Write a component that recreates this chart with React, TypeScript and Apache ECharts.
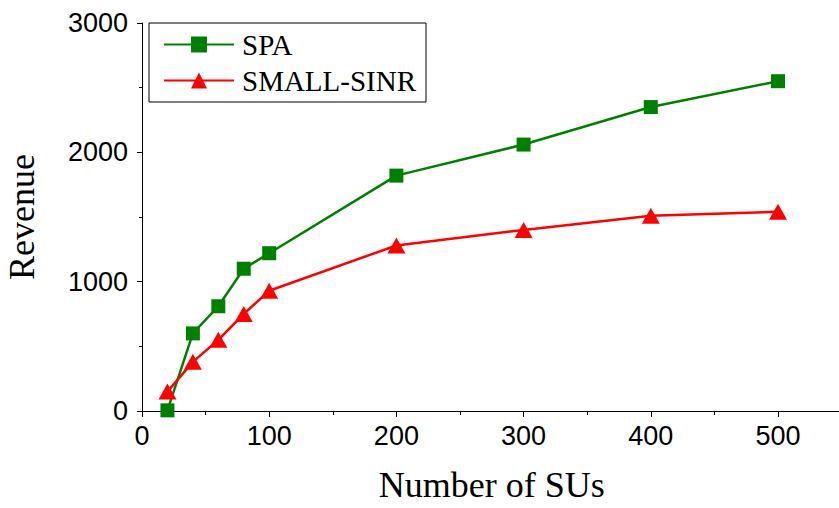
import React, { useEffect, useRef } from "react";
import * as echarts from "echarts";

const xValues = [20, 40, 60, 80, 100, 200, 300, 400, 500];
const spaValues = [5, 600, 810, 1100, 1220, 1820, 2060, 2350, 2550];
const sinrValues = [150, 380, 550, 750, 930, 1280, 1400, 1510, 1540];
const seriesNames = ["SPA", "SMALL-SINR"];
const xTitle = "Number of SUs";
const yTitle = "Revenue";

export default function App() {
  const ref = useRef<HTMLDivElement>(null);
  useEffect(() => {
    if (!ref.current) return;
    const chart = echarts.init(ref.current, null, { renderer: "svg" });
    const serif = "'Liberation Serif', 'Times New Roman', serif";
    const sans = "'Liberation Sans', Arial, sans-serif";
    chart.setOption({
      animation: false,
      backgroundColor: "#ffffff",
      grid: { left: 142, top: 23, width: 699.6, height: 388, outerBoundsMode: "none", containLabel: false },
      legend: {
        left: 149,
        top: 23,
        orient: "vertical",
        data: seriesNames,
        itemWidth: 70,
        itemHeight: 20,
        itemGap: 7,
        padding: [7, 10, 7, 14],
        borderColor: "#000",
        borderWidth: 1,
        borderRadius: 0,
        textStyle: { fontFamily: serif, fontSize: 29, color: "#000", padding: [0, 0, 0, 3] },
      },
      xAxis: {
        type: "value",
        min: 0,
        max: 550,
        interval: 100,
        name: xTitle,
        nameLocation: "middle",
        nameGap: 56,
        nameTextStyle: { fontFamily: serif, fontSize: 36, color: "#000" },
        axisLine: { show: true, lineStyle: { color: "#000", width: 1 } },
        axisTick: { show: true, length: 6, lineStyle: { color: "#000" } },
        minorTick: { show: true, splitNumber: 2, length: 4, lineStyle: { color: "#000" } },
        splitLine: { show: false },
        axisLabel: {
          fontFamily: sans,
          fontSize: 27,
          color: "#000",
          margin: 11,
          showMaxLabel: false,
          formatter: (v: number) => String(v),
        },
      },
      yAxis: {
        type: "value",
        min: 0,
        max: 3000,
        interval: 1000,
        name: yTitle,
        nameLocation: "middle",
        nameGap: 102,
        nameTextStyle: { fontFamily: serif, fontSize: 36, color: "#000" },
        axisLine: { show: true, lineStyle: { color: "#000", width: 1 } },
        axisTick: { show: true, length: 5, lineStyle: { color: "#000" } },
        minorTick: { show: true, splitNumber: 2, length: 3, lineStyle: { color: "#000" } },
        splitLine: { show: false },
        axisLabel: {
          fontFamily: sans,
          fontSize: 27,
          color: "#000",
          margin: 14,
          formatter: (v: number) => String(v),
        },
      },
      series: [
        {
          name: seriesNames[0],
          type: "line",
          data: xValues.map((x, i) => [x, spaValues[i]]),
          symbol: "rect",
          symbolSize: 14,
          color: "#008000",
          lineStyle: { width: 2.5, color: "#008000" },
          itemStyle: { color: "#008000" },
          z: 2,
        },
        {
          name: seriesNames[1],
          type: "line",
          data: xValues.map((x, i) => [x, sinrValues[i]]),
          symbol: "triangle",
          symbolSize: [18, 16],
          color: "#ff0000",
          lineStyle: { width: 2.5, color: "#ff0000" },
          itemStyle: { color: "#ff0000" },
          z: 3,
        },
      ],
    });
    return () => chart.dispose();
  }, []);
  return <div ref={ref} style={{ width: 839, height: 508, position: "absolute", left: 0, top: 0 }} />;
}
